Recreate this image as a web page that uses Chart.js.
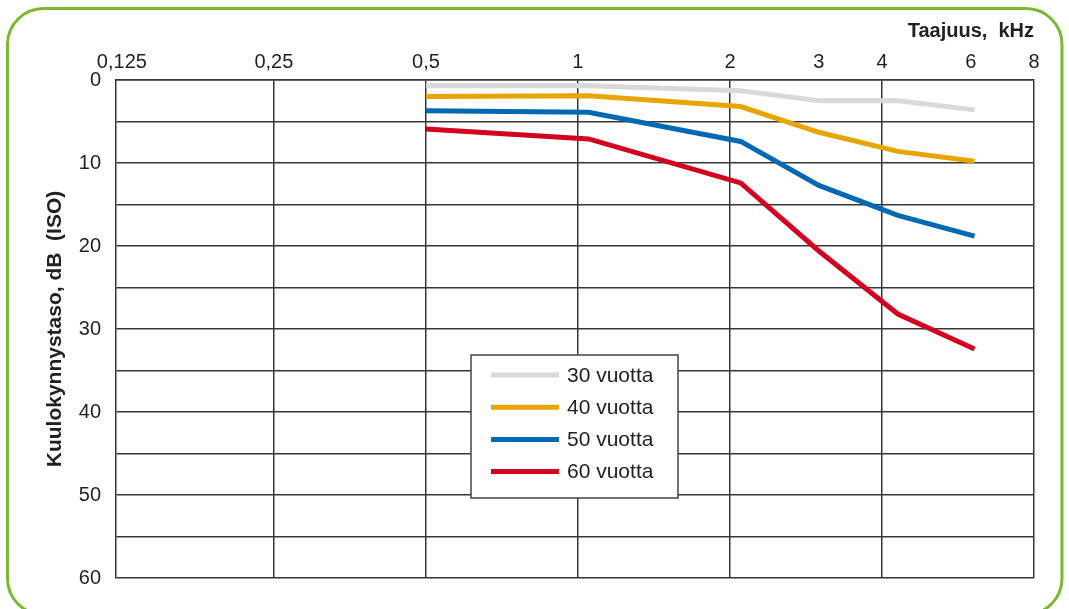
<!DOCTYPE html>
<html><head><meta charset="utf-8">
<script src="https://cdn.jsdelivr.net/npm/chart.js@4.4.1/dist/chart.umd.min.js"></script>
<style>html,body{margin:0;padding:0;background:#fff;}#wrap{width:1069px;height:609px;position:relative;}</style>
</head><body><div id="wrap"><canvas id="c" width="1069" height="609"></canvas></div>
<script>
// ---- data ----
const frequencies = [0.5, 1.05, 2.1, 3, 4.3, 6.1];   // kHz
const age30 = [0.7, 0.7, 1.3, 2.5, 2.5, 3.6];
const age40 = [2.0, 1.9, 3.2, 6.3, 8.6, 9.8];
const age50 = [3.7, 3.9, 7.4, 12.7, 16.3, 18.8];
const age60 = [5.9, 7.1, 12.4, 20.6, 28.2, 32.4];
const seriesLabels = ['30 vuotta', '40 vuotta', '50 vuotta', '60 vuotta'];
const seriesColors = ['#d9d9d9', '#e8a500', '#0069b4', '#d40020'];
const xTickValues = [0.125, 0.25, 0.5, 1, 2, 3, 4, 6, 8];
const xTickLabels = ['0,125', '0,25', '0,5', '1', '2', '3', '4', '6', '8'];
const xGridValues = [0.25, 0.5, 1, 2, 4, 8];
const yLabelValues = [0, 10, 20, 30, 40, 50, 60];
const xTitle = 'Taajuus,  kHz';
const yTitle = 'Kuulokynnystaso, dB  (ISO)';

const FONT = '"Liberation Sans", Arial, Helvetica, sans-serif';
const GRID = '#363636';
const TEXT = '#231f20';
const seriesValues = [age30, age40, age50, age60];

const datasets = seriesValues.map((vals, i) => ({
  label: seriesLabels[i],
  data: frequencies.map((f, j) => ({x: f, y: vals[j]})),
  borderColor: seriesColors[i],
  backgroundColor: seriesColors[i],
  borderWidth: 5,
  pointRadius: 0,
  tension: 0,
  borderCapStyle: 'butt',
  borderJoinStyle: 'miter',
  fill: false
}));

const framePlugin = {
  id: 'frame',
  afterDraw(chart) {
    const c = chart.ctx;
    c.save();
    c.strokeStyle = '#7bb831';
    c.lineWidth = 3;
    c.beginPath();
    c.roundRect(7.5, 8.5, 1054.5, 606, 36);
    c.stroke();
    c.restore();
  }
};

const legendPlugin = {
  id: 'boxLegend',
  afterDatasetsDraw(chart) {
    const c = chart.ctx;
    const bx = 471, by = 355, bw = 207, bh = 143;
    c.save();
    c.fillStyle = '#fff';
    c.fillRect(bx, by, bw, bh);
    c.strokeStyle = '#444';
    c.lineWidth = 1.5;
    c.strokeRect(bx, by, bw, bh);
    chart.data.datasets.forEach((ds, i) => {
      const y = 375 + i * 32.2;
      c.strokeStyle = ds.borderColor;
      c.lineWidth = 5;
      c.lineCap = 'butt';
      c.beginPath();
      c.moveTo(491, y);
      c.lineTo(559, y);
      c.stroke();
      c.fillStyle = TEXT;
      c.font = '21px ' + FONT;
      c.textBaseline = 'middle';
      c.textAlign = 'left';
      c.fillText(ds.label, 567, y + 1);
    });
    c.restore();
  }
};

new Chart(document.getElementById('c'), {
  type: 'line',
  data: {datasets},
  options: {
    responsive: false,
    animation: false,
    devicePixelRatio: 1,
    layout: {padding: {left: 0, top: 0, right: 35, bottom: 31}},
    plugins: {legend: {display: false}, tooltip: {enabled: false}},
    scales: {
      x: {
        type: 'logarithmic',
        position: 'top',
        min: 0.1217,
        max: 8,
        afterFit: s => { s.height = 80; },
        afterBuildTicks: s => { s.ticks = xTickValues.map(v => ({value: v})); },
        ticks: {
          autoSkip: false, maxRotation: 0, minRotation: 0, padding: 6,
          color: TEXT, font: {family: FONT, size: 20},
          callback: (v) => { const k = xTickValues.indexOf(v); return k >= 0 ? xTickLabels[k] : ''; }
        },
        grid: {
          drawTicks: false, lineWidth: 1.5,
          color: ctx => (ctx.tick && xGridValues.includes(ctx.tick.value)) ? GRID : 'rgba(0,0,0,0)'
        },
        border: {display: true, color: GRID, width: 1.5},
        title: {
          display: true, text: xTitle, align: 'end', color: TEXT,
          font: {family: FONT, size: 20, weight: 'bold'}, padding: {top: 19, bottom: 0}
        }
      },
      y: {
        type: 'linear',
        reverse: true,
        min: 0, max: 60,
        afterFit: s => { s.width = 116; },
        ticks: {
          stepSize: 5, padding: 15, color: TEXT, font: {family: FONT, size: 20},
          callback: v => yLabelValues.includes(v) ? String(v) : ''
        },
        grid: {drawTicks: false, lineWidth: 1.5, color: GRID},
        border: {display: true, color: GRID, width: 1.5},
        title: {
          display: true, text: yTitle, color: TEXT,
          font: {family: FONT, size: 21, weight: 'bold'}, padding: {top: 43, bottom: 0}
        }
      }
    }
  },
  plugins: [legendPlugin, framePlugin]
});
</script>
</body></html>
